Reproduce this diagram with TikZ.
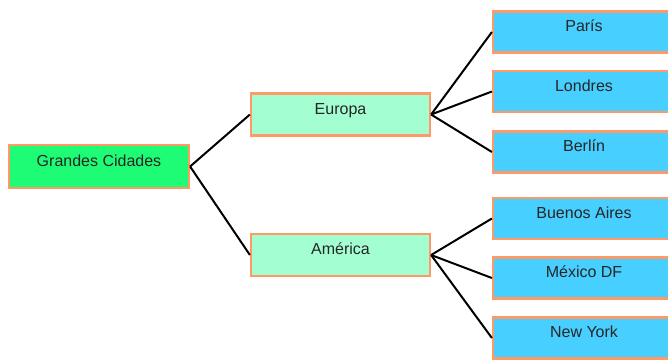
\documentclass[tikz,border=0pt]{standalone}
\usepackage{fontspec}
\setmainfont{Liberation Sans}
\definecolor{edgeorange}{HTML}{FF9966}
\definecolor{rootgreen}{HTML}{1EFC76}
\definecolor{midgreen}{HTML}{A3FFD2}
\definecolor{leafblue}{HTML}{47CFFF}
\tikzset{
  box/.style={draw=edgeorange, line width=2.2pt, rectangle, inner sep=0pt,
    font=\fontsize{16}{18}\selectfont, text=black!85,
    text height=12pt, text depth=13pt},
  rootbox/.style={box, fill=rootgreen, minimum width=180pt, minimum height=43pt},
  midbox/.style={box, fill=midgreen, minimum width=179pt, minimum height=42pt},
  leafbox/.style={box, fill=leafblue, minimum width=182pt, minimum height=41pt},
  link/.style={line width=2pt, black}
}
\begin{document}
\begin{tikzpicture}[x=1pt, y=-1pt]
  \useasboundingbox (0,0) rectangle (668,360);
  \clip (0,0) rectangle (668,360);
  \fill[white] (0,0) rectangle (668,360);

  % root, continents and cities
  \node[rootbox] (root) at (99,166.5) {Grandes Cidades};
  \node[midbox] (europa) at (340.5,114.5) {Europa};
  \node[midbox] (america) at (340.5,255) {América};

  \node[leafbox] (paris)   at (584,32)    {París};
  \node[leafbox] (londres) at (584,91.5)  {Londres};
  \node[leafbox] (berlin)  at (584,152)   {Berlín};
  \node[leafbox] (buenos)  at (584,218.5) {Buenos Aires};
  \node[leafbox] (mexico)  at (584,278)   {México DF};
  \node[leafbox] (newyork) at (584,338)   {New York};

  % tree connectors
  \draw[link] (root.east) -- (europa.west);
  \draw[link] (root.east) -- (america.west);
  \draw[link] (europa.east) -- (paris.west);
  \draw[link] (europa.east) -- (londres.west);
  \draw[link] (europa.east) -- (berlin.west);
  \draw[link] (america.east) -- (buenos.west);
  \draw[link] (america.east) -- (mexico.west);
  \draw[link] (america.east) -- (newyork.west);
\end{tikzpicture}
\end{document}
